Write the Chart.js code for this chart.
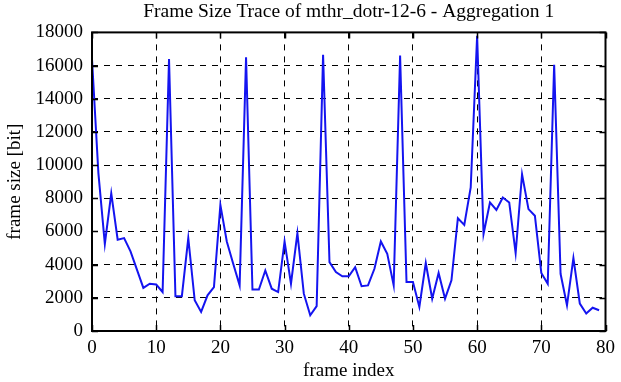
<!DOCTYPE html>
<html>
<head>
<meta charset="utf-8">
<script src="https://cdn.jsdelivr.net/npm/chart.js@4/dist/chart.umd.min.js"></script>
<style>
  html, body { margin: 0; padding: 0; background: #fff; }
  #wrap { width: 621px; height: 382px; }
</style>
</head>
<body>
<div id="wrap"><canvas id="traceChart"></canvas></div>
<script>
// frame index 0..79, frame size in bit
const frameIndex = Array.from({ length: 80 }, (_, i) => i);
const frameSize = [
  16400, 9500, 5250, 8300, 5500, 5600, 4800, 3700, 2600, 2850,
  2800, 2350, 16400, 2100, 2100, 5600, 1850, 1150, 2150, 2650,
  7600, 5400, 4050, 2750, 16500, 2500, 2500, 3650, 2550, 2350,
  5400, 2850, 5900, 2250, 950, 1500, 16650, 4150, 3550, 3300,
  3300, 3850, 2700, 2750, 3750, 5400, 4650, 2750, 16600, 2950,
  2950, 1450, 4100, 1950, 3500, 1950, 3050, 6800, 6400, 8650,
  17800, 5850, 7750, 7300, 8050, 7750, 4700, 9450, 7350, 6950,
  3500, 2850, 16050, 3450, 1550, 4400, 1650, 1050, 1400, 1250
];
const xTicks = [0, 10, 20, 30, 40, 50, 60, 70, 80];
const yTicks = [0, 2000, 4000, 6000, 8000, 10000, 12000, 14000, 16000, 18000];

const FONT = '"Liberation Serif", "DejaVu Serif", serif';

// gnuplot-like frame: solid border with small inward tick marks on all sides
const framePlugin = {
  id: 'frame',
  afterDraw(chart) {
    const { ctx, chartArea: a, scales: { x, y } } = chart;
    ctx.save();
    ctx.strokeStyle = '#000';
    ctx.lineWidth = 2;
    ctx.setLineDash([]);
    ctx.strokeRect(a.left, a.top, a.right - a.left, a.bottom - a.top);
    ctx.lineWidth = 1.5;
    ctx.beginPath();
    xTicks.forEach(v => {
      const px = Math.round(x.getPixelForValue(v)) + 0.5;
      ctx.moveTo(px, a.bottom); ctx.lineTo(px, a.bottom - 6);
      ctx.moveTo(px, a.top); ctx.lineTo(px, a.top + 6);
    });
    yTicks.forEach(v => {
      const py = Math.round(y.getPixelForValue(v)) + 0.5;
      ctx.moveTo(a.left, py); ctx.lineTo(a.left + 6, py);
      ctx.moveTo(a.right, py); ctx.lineTo(a.right - 6, py);
    });
    ctx.stroke();
    ctx.restore();
  }
};

new Chart(document.getElementById('traceChart'), {
  type: 'line',
  data: {
    labels: frameIndex,
    datasets: [{
      data: frameSize,
      borderColor: '#1414f0',
      borderWidth: 2,
      pointRadius: 0,
      tension: 0,
      fill: false
    }]
  },
  plugins: [framePlugin],
  options: {
    responsive: true,
    maintainAspectRatio: false,
    animation: false,
    layout: { padding: { left: 0, right: 8, top: 0, bottom: 0 } },
    plugins: {
      legend: { display: false },
      tooltip: { enabled: false },
      title: {
        display: true,
        fullSize: false,
        text: 'Frame Size Trace of mthr_dotr-12-6 - Aggregation 1',
        color: '#000',
        font: { family: FONT, size: 19.5, weight: 'normal' },
        padding: { top: 0, bottom: 9 }
      }
    },
    scales: {
      x: {
        type: 'linear',
        min: 0, max: 80,
        afterBuildTicks: s => { s.ticks = xTicks.map(v => ({ value: v })); },
        afterFit: s => { s.height = 51; },
        grid: {
          color: c => (c.tick.value === 0 || c.tick.value === 80) ? 'rgba(0,0,0,0)' : '#000',
          lineWidth: 1,
          tickLength: 0,
          drawTicks: false
        },
        border: { display: false, dash: [6, 6] },
        ticks: {
          color: '#000', font: { family: FONT, size: 19 }, padding: 6, maxRotation: 0,
          callback: v => String(v)
        },
        title: {
          display: true, text: 'frame index', color: '#000',
          font: { family: FONT, size: 19 }, padding: { top: 2, bottom: 0 }
        }
      },
      y: {
        min: 0, max: 18000,
        afterBuildTicks: s => { s.ticks = yTicks.map(v => ({ value: v })); },
        afterFit: s => { s.width = 92; },
        grid: {
          color: c => (c.tick.value === 0 || c.tick.value === 18000) ? 'rgba(0,0,0,0)' : '#000',
          lineWidth: 1,
          drawTicks: false
        },
        border: { display: false, dash: [6, 6] },
        ticks: {
          color: '#000', font: { family: FONT, size: 19 }, padding: 9,
          callback: v => String(v)
        },
        title: {
          display: true, text: 'frame size [bit]', color: '#000',
          font: { family: FONT, size: 19 }, padding: { top: 4, bottom: 0 }
        }
      }
    }
  }
});
</script>
</body>
</html>
